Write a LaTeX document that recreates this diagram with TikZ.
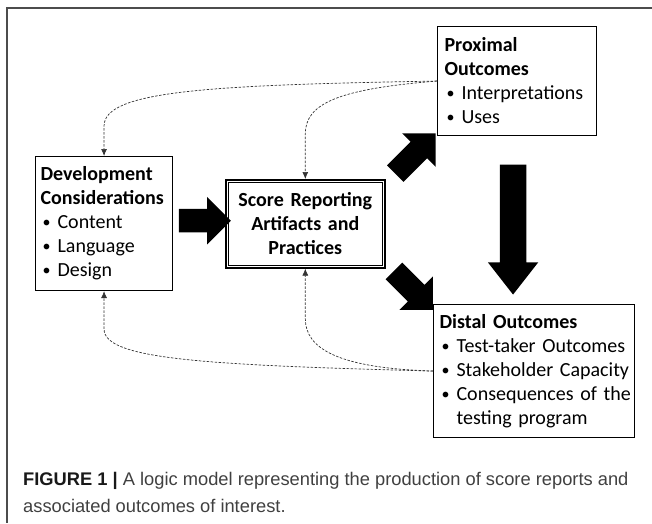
\documentclass[tikz,border=0pt]{standalone}
\usepackage{fontspec}
\setmainfont{Carlito}
\newfontfamily\capfont{Liberation Sans}
\usetikzlibrary{shapes.arrows,calc,arrows.meta}

\newcommand\itm{\makebox[17pt][l]{\hspace{2pt}\raisebox{1pt}{\scalebox{0.8}{\textbullet}}}}

\begin{document}
\begin{tikzpicture}[x=1pt,y=-1pt,
  box/.style={draw, line width=1.1pt, anchor=north west, align=left,
    inner xsep=5pt, inner ysep=0pt, font=\fontsize{20}{24}\selectfont},
  fat/.style={single arrow, fill=black, inner xsep=0pt, inner ysep=11.5pt,
    single arrow head extend=12pt, single arrow tip angle=90},
  link/.style={dash pattern=on 2.5pt off 1.5pt, line width=0.7pt, black!80,
    -{Latex[length=7pt,width=6pt]}}]
\useasboundingbox (0,0) rectangle (652,523);
% frame
\draw [black!70, line width=1.4pt] (652,8) -- (7,8) -- (7,523);

% boxes
\node [box, minimum width=137pt, minimum height=134pt, text width=127pt] (dev) at (35,156)
  {\textbf{Development}\\ \textbf{Considerations}\\ \itm Content\\ \itm Language\\ \itm Design};
\node [box, line width=1.6pt, minimum width=159pt, minimum height=88pt, text width=149pt, align=center] (score) at (225,179)
  {\textbf{Score Reporting}\\ \textbf{Artifacts and}\\ \textbf{Practices}};
\draw [line width=0.8pt] ($(score.north west)+(3.5,3.5)$) rectangle ($(score.south east)+(-3.5,-3.5)$);
\node [box, minimum width=157pt, minimum height=109pt, text width=145pt, inner xsep=7pt] (prox) at (437,26)
  {\textbf{Proximal}\\ \textbf{Outcomes}\\ \itm Interpretations\\ \itm Uses};
\node [box, minimum width=201pt, minimum height=133pt, text width=189pt, inner xsep=6pt] (dist) at (433,304)
  {\mbox{\textbf{Distal Outcomes}}\\ \mbox{\itm Test-taker Outcomes}\\ \mbox{\itm Stakeholder Capacity}\\
   \mbox{\itm Consequences of the}\\ \mbox{\hspace*{17pt}testing program}};

% block arrows
\node [fat, minimum height=52pt] (toscore) at ($(dev.east)!.5!(score.west)+(0,-3)$) {};
\node [fat, minimum height=57pt, rotate=45] (toprox) at ($(score.north east)!.5!(prox.south west)$) {};
\node [fat, minimum height=55pt, rotate=-45] (todist) at ($(score.south east)!.5!(dist.north west)$) {};
\node [fat, minimum height=130pt, inner ysep=13pt, single arrow tip angle=76, rotate=-90] (down)
  at ($(prox.south)+(-4,85)$) {};

% feedback
\begin{scope}[link]
	\draw (prox.west) .. controls +(-230,4) and +(0,-35) .. ($(dev.north)+(0,-30)$) -- (dev.north);
	\draw (prox.west) .. controls +(-100,8) and +(0,-30) .. ($(score.north)+(0,-45)$) -- (score.north);
	\draw (dist.west) .. controls +(-230,-6) and +(0,30) .. ($(dev.south)+(0,38)$) -- (dev.south);
	\draw (dist.west) .. controls +(-95,-3) and +(0,30) .. ($(score.south)+(0,50)$) -- (score.south);
\end{scope}

% caption
\node [anchor=north west, align=left, inner sep=0pt, text=black!75,
  font=\capfont\fontsize{18.3}{27}\selectfont] (cap) at (23,472)
  {\textcolor{black!90}{\textbf{FIGURE 1 |}} A logic model representing the production of score reports and\\
   associated outcomes of interest.};
\end{tikzpicture}
\end{document}
